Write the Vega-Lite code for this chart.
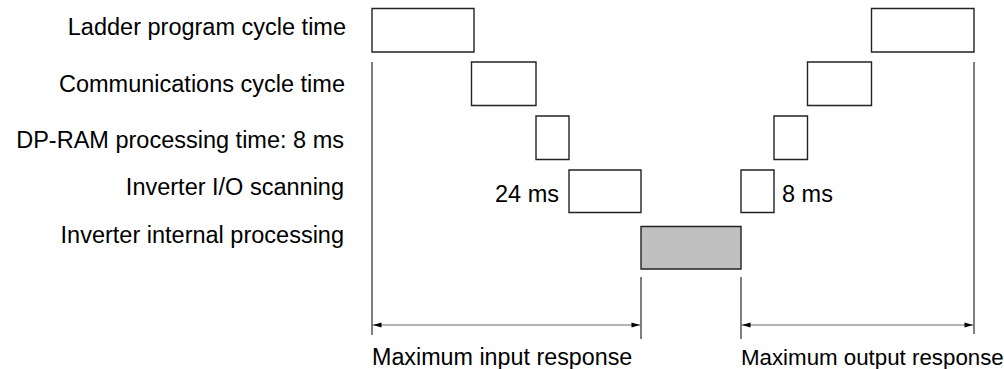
{
  "$schema": "https://vega.github.io/schema/vega-lite/v6.json",
  "width": 1004,
  "height": 369,
  "padding": 0,
  "autosize": "none",
  "background": "white",
  "config": {"view": {"stroke": null}, "text": {"font": "Liberation Sans", "fontSize": 23.5, "color": "#000"}},
  "datasets": {
    "boxes": [
      {"step": "Ladder program cycle time", "side": "input", "x0": 372, "x1": 474, "y0": 8.5, "y1": 52, "kind": "plain"},
      {"step": "Ladder program cycle time", "side": "output", "x0": 871.5, "x1": 974, "y0": 8.5, "y1": 52, "kind": "plain"},
      {"step": "Communications cycle time", "side": "input", "x0": 471.5, "x1": 536, "y0": 62, "y1": 105.5, "kind": "plain"},
      {"step": "Communications cycle time", "side": "output", "x0": 807.5, "x1": 871.5, "y0": 62, "y1": 105.5, "kind": "plain"},
      {"step": "DP-RAM processing time: 8 ms", "side": "input", "x0": 536, "x1": 569, "y0": 116, "y1": 159.5, "kind": "plain"},
      {"step": "DP-RAM processing time: 8 ms", "side": "output", "x0": 774, "x1": 807.5, "y0": 116, "y1": 159.5, "kind": "plain"},
      {"step": "Inverter I/O scanning", "side": "input", "x0": 569, "x1": 641, "y0": 170, "y1": 212.5, "kind": "plain"},
      {"step": "Inverter I/O scanning", "side": "output", "x0": 741, "x1": 774, "y0": 170, "y1": 212.5, "kind": "plain"},
      {"step": "Inverter internal processing", "side": "both", "x0": 641, "x1": 741, "y0": 226.5, "y1": 269, "kind": "internal"}
    ],
    "vlines": [
      {"x": 372, "y0": 62, "y1": 335},
      {"x": 974, "y0": 62, "y1": 334},
      {"x": 641, "y0": 277, "y1": 339},
      {"x": 741, "y0": 277, "y1": 339}
    ],
    "spans": [
      {"name": "Maximum input response", "x0": 372, "x1": 641, "y": 325},
      {"name": "Maximum output response", "x0": 741, "x1": 974, "y": 325}
    ],
    "heads": [
      {"x": 373, "y": 325, "dir": "left"},
      {"x": 640, "y": 325, "dir": "right"},
      {"x": 742, "y": 325, "dir": "left"},
      {"x": 973, "y": 325, "dir": "right"}
    ],
    "rlabels": [
      {"text": "Ladder program cycle time", "x": 346, "y": 34.5},
      {"text": "Communications cycle time", "x": 345, "y": 91.5},
      {"text": "DP-RAM processing time: 8 ms", "x": 344, "y": 147.5},
      {"text": "Inverter I/O scanning", "x": 344, "y": 195},
      {"text": "Inverter internal processing", "x": 344, "y": 243},
      {"text": "24 ms", "x": 559, "y": 201.5}
    ],
    "llabels": [
      {"text": "8 ms", "x": 782, "y": 201.5}
    ],
    "blabels": [
      {"text": "Maximum input response", "x": 372, "y": 365, "size": 23.3},
      {"text": "Maximum output response", "x": 741, "y": 365, "size": 22.3}
    ]
  },
  "layer": [
    {
      "data": {"name": "boxes"},
      "mark": {"type": "rect", "stroke": "#222", "strokeWidth": 1.4},
      "encoding": {
        "x": {"field": "x0", "type": "quantitative", "scale": {"domain": [0, 1004], "nice": false, "zero": false}, "axis": null},
        "x2": {"field": "x1"},
        "y": {"field": "y0", "type": "quantitative", "scale": {"domain": [0, 369], "nice": false, "zero": false, "reverse": true}, "axis": null},
        "y2": {"field": "y1"},
        "fill": {"field": "kind", "type": "nominal", "scale": {"domain": ["plain", "internal"], "range": ["#ffffff", "#c0c0c0"]}, "legend": null}
      }
    },
    {
      "data": {"name": "vlines"},
      "mark": {"type": "rule", "color": "#555", "strokeWidth": 1.5},
      "encoding": {
        "x": {"field": "x", "type": "quantitative"},
        "y": {"field": "y0", "type": "quantitative"},
        "y2": {"field": "y1"}
      }
    },
    {
      "data": {"name": "spans"},
      "mark": {"type": "rule", "color": "#666", "strokeWidth": 1},
      "encoding": {
        "x": {"field": "x0", "type": "quantitative"},
        "x2": {"field": "x1"},
        "y": {"field": "y", "type": "quantitative"}
      }
    },
    {
      "data": {"name": "heads"},
      "mark": {"type": "point", "filled": true, "size": 72, "opacity": 1, "color": "#000"},
      "encoding": {
        "x": {"field": "x", "type": "quantitative"},
        "y": {"field": "y", "type": "quantitative"},
        "shape": {"field": "dir", "type": "nominal", "scale": {"domain": ["left", "right"], "range": ["M0,0 L2,-0.6 L2,0.6 Z", "M0,0 L-2,-0.6 L-2,0.6 Z"]}, "legend": null}
      }
    },
    {
      "data": {"name": "rlabels"},
      "mark": {"type": "text", "baseline": "alphabetic", "align": "right"},
      "encoding": {
        "x": {"field": "x", "type": "quantitative"},
        "y": {"field": "y", "type": "quantitative"},
        "text": {"field": "text"}
      }
    },
    {
      "data": {"name": "llabels"},
      "mark": {"type": "text", "baseline": "alphabetic", "align": "left"},
      "encoding": {
        "x": {"field": "x", "type": "quantitative"},
        "y": {"field": "y", "type": "quantitative"},
        "text": {"field": "text"}
      }
    },
    {
      "data": {"name": "blabels"},
      "mark": {"type": "text", "baseline": "alphabetic", "align": "left"},
      "encoding": {
        "x": {"field": "x", "type": "quantitative"},
        "y": {"field": "y", "type": "quantitative"},
        "text": {"field": "text"},
        "size": {"field": "size", "type": "quantitative", "scale": null}
      }
    }
  ]
}
